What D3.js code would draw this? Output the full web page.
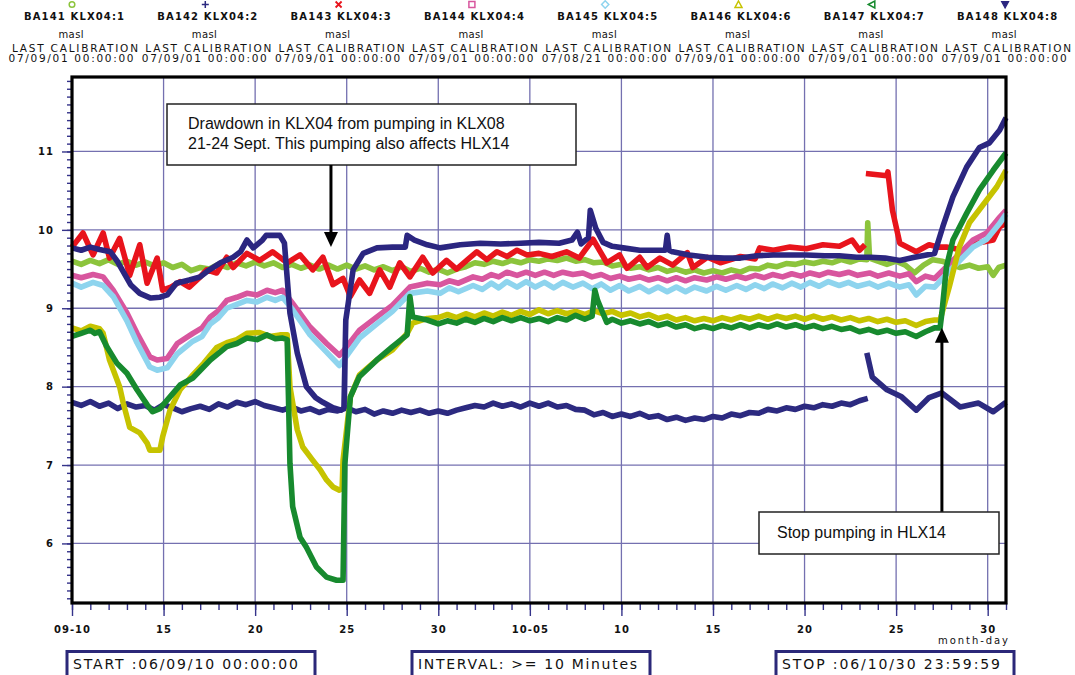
<!DOCTYPE html>
<html><head><meta charset="utf-8">
<script src="https://cdn.jsdelivr.net/npm/d3@7"></script>
<style>
body{margin:0;background:#fff;}
svg{display:block;}
text{font-family:"DejaVu Sans",sans-serif;fill:#111;}
</style></head><body>
<svg id="c" width="1075" height="675"></svg>
<script>
// ---------- data ----------
const seriesNames = ["BA141 KLX04:1","BA142 KLX04:2","BA143 KLX04:3","BA144 KLX04:4","BA145 KLX04:5","BA146 KLX04:6","BA147 KLX04:7","BA148 KLX04:8"];
const seriesUnits = ["masl","masl","masl","masl","masl","masl","masl","masl"];
const calibrationDates = ["07/09/01 00:00:00","07/09/01 00:00:00","07/09/01 00:00:00","07/09/01 00:00:00","07/08/21 00:00:00","07/09/01 00:00:00","07/09/01 00:00:00","07/09/01 00:00:00"];
// x = days after 06-09-10 00:00, y = masl
const ba141 = [[0,9.60],[0.5,9.56],[1,9.61],[1.5,9.57],[2,9.62],[2.5,9.56],[3,9.60],[3.5,9.55],[4,9.59],[4.5,9.54],[5,9.58],[5.5,9.52],[6,9.56],[6.5,9.48],[7,9.52],[7.5,9.50],[8,9.56],[8.5,9.52],[9,9.58],[9.5,9.54],[10,9.59],[10.5,9.54],[11,9.58],[11.5,9.52],[12,9.56],[12.5,9.51],[13,9.55],[13.5,9.50],[14,9.55],[14.5,9.50],[15,9.55],[15.5,9.50],[16,9.54],[16.5,9.49],[17,9.53],[17.5,9.48],[18,9.53],[18.5,9.47],[19,9.51],[19.5,9.46],[20,9.50],[20.5,9.45],[21,9.50],[21.5,9.53],[22,9.58],[22.5,9.56],[23,9.60],[23.5,9.57],[24,9.61],[24.5,9.58],[25,9.62],[25.5,9.60],[26,9.63],[26.5,9.61],[27,9.64],[27.5,9.60],[28,9.62],[28.5,9.58],[29,9.59],[29.5,9.54],[30,9.56],[30.5,9.51],[31,9.53],[31.5,9.49],[32,9.52],[32.5,9.47],[33,9.50],[33.5,9.46],[34,9.49],[34.5,9.45],[35,9.48],[35.5,9.45],[36,9.49],[36.5,9.46],[37,9.51],[37.5,9.50],[38,9.55],[38.5,9.53],[39,9.57],[39.5,9.56],[40,9.59],[40.5,9.57],[41,9.60],[41.5,9.58],[42,9.62],[42.5,9.59],[43,9.63],[43.4,9.62],[43.45,10.09],[43.55,9.64],[44,9.60],[44.5,9.56],[45,9.60],[45.5,9.55],[46,9.45],[46.5,9.55],[47,9.62],[47.5,9.60],[48,9.56],[48.5,9.52],[49,9.55],[49.5,9.51],[50,9.53],[50.3,9.42],[50.6,9.52],[51,9.55]];
const ba142 = [[0,7.80],[0.5,7.76],[1,7.81],[1.5,7.75],[2,7.79],[2.5,7.72],[3,7.78],[3.5,7.74],[4,7.76],[4.5,7.70],[5,7.77],[5.5,7.73],[6,7.68],[6.5,7.72],[7,7.75],[7.5,7.71],[8,7.78],[8.5,7.74],[9,7.80],[9.5,7.77],[10,7.81],[10.5,7.76],[11,7.73],[11.5,7.70],[12,7.74],[12.5,7.69],[13,7.72],[13.5,7.67],[14,7.71],[14.5,7.69],[15,7.73],[15.5,7.68],[16,7.71],[16.5,7.65],[17,7.69],[17.5,7.66],[18,7.70],[18.5,7.67],[19,7.70],[19.5,7.66],[20,7.69],[20.5,7.66],[21,7.70],[21.5,7.73],[22,7.76],[22.5,7.74],[23,7.79],[23.5,7.75],[24,7.78],[24.5,7.74],[25,7.79],[25.5,7.75],[26,7.79],[26.5,7.74],[27,7.76],[27.5,7.71],[28,7.70],[28.5,7.64],[29,7.67],[29.5,7.62],[30,7.65],[30.5,7.62],[31,7.66],[31.5,7.61],[32,7.63],[32.5,7.58],[33,7.61],[33.5,7.57],[34,7.60],[34.5,7.58],[35,7.62],[35.5,7.60],[36,7.65],[36.5,7.63],[37,7.67],[37.5,7.66],[38,7.71],[38.5,7.69],[39,7.73],[39.5,7.71],[40,7.75],[40.5,7.73],[41,7.77],[41.5,7.75],[42,7.79],[42.5,7.77],[43,7.82],[43.45,7.85],null,[43.4,8.43],[43.7,8.12],[44.5,7.96],[45.3,7.87],[46.1,7.70],[46.8,7.86],[47.5,7.92],[48.5,7.74],[49.5,7.79],[50.3,7.68],[51,7.80]];
const ba143 = [[0,9.78],[0.6,9.96],[1.15,9.68],[1.7,9.96],[2.05,9.64],[2.6,9.89],[3.15,9.42],[3.7,9.81],[4.1,9.32],[4.65,9.64],[4.95,9.23],[5.4,9.27],[5.9,9.34],[6.4,9.27],[7.0,9.40],[7.35,9.49],[7.9,9.45],[8.45,9.65],[8.8,9.52],[9.55,9.70],[10.25,9.61],[10.95,9.72],[11.75,9.58],[12.45,9.68],[13.15,9.49],[13.7,9.65],[14.25,9.30],[14.8,9.38],[15.2,9.15],[15.7,9.36],[16.25,9.19],[16.8,9.49],[17.35,9.27],[17.9,9.58],[18.45,9.40],[19.15,9.65],[19.7,9.45],[20.45,9.61],[21.0,9.50],[21.6,9.62],[22.1,9.72],[22.65,9.62],[23.2,9.72],[23.75,9.66],[24.3,9.74],[24.85,9.68],[25.5,9.70],[26.2,9.66],[27.0,9.72],[27.7,9.64],[28.45,9.88],[29.2,9.58],[29.9,9.68],[30.3,9.51],[31.0,9.65],[31.4,9.52],[32.1,9.64],[32.8,9.55],[33.6,9.71],[33.9,9.52],[34.7,9.65],[35.4,9.58],[36.5,9.66],[37.3,9.63],[37.55,9.77],[38.3,9.74],[39.2,9.78],[40.1,9.76],[41.0,9.81],[41.9,9.79],[42.6,9.87],[43.0,9.74],[43.3,9.81],null,[43.35,10.72],[44.5,10.69],[44.55,10.74],[44.8,10.25],[45.2,9.83],[46.1,9.72],[46.8,9.81],[47.3,9.78],[47.75,9.78],[48.65,9.74],[49.4,9.83],[50.3,9.87],[50.65,10.04],[51,10.08]];
const ba144 = [[0,9.42],[0.5,9.39],[1.15,9.43],[1.7,9.40],[2.25,9.23],[3.0,8.94],[3.55,8.68],[4.25,8.38],[4.65,8.34],[5.2,8.36],[5.75,8.55],[6.6,8.68],[7.1,8.75],[7.55,8.89],[8.0,8.97],[8.45,9.10],[9.0,9.14],[9.55,9.19],[10.1,9.17],[10.65,9.23],[11.1,9.20],[11.5,9.23],[12.05,9.06],[13.0,8.76],[13.9,8.55],[14.6,8.40],[14.8,8.45],[15.7,8.72],[16.65,8.89],[17.5,9.04],[18.45,9.27],[19.4,9.32],[20.1,9.30],[20.6,9.35],[21.1,9.32],[21.9,9.40],[22.4,9.37],[22.9,9.43],[23.3,9.40],[23.75,9.46],[24.3,9.42],[24.8,9.46],[25.3,9.42],[25.8,9.46],[26.3,9.42],[26.8,9.46],[27.35,9.43],[27.9,9.45],[28.4,9.40],[28.9,9.43],[29.4,9.38],[29.9,9.41],[30.4,9.37],[31.0,9.40],[31.5,9.36],[32.0,9.39],[32.5,9.35],[33.0,9.39],[33.5,9.35],[34.0,9.39],[34.65,9.36],[35.2,9.40],[35.7,9.37],[36.3,9.41],[36.8,9.38],[37.3,9.42],[37.8,9.39],[38.25,9.43],[38.8,9.40],[39.3,9.44],[39.8,9.41],[40.3,9.45],[40.8,9.42],[41.3,9.46],[41.9,9.43],[42.4,9.46],[42.9,9.42],[43.55,9.45],[44.0,9.41],[44.6,9.45],[45.2,9.41],[45.7,9.44],[46.1,9.34],[46.6,9.41],[47.1,9.38],[48.1,9.61],[49.2,9.87],[49.95,9.96],[50.65,10.16],[51,10.25]];
const ba145 = [[0,9.32],[0.5,9.27],[1.15,9.33],[1.7,9.29],[2.25,9.15],[3.0,8.84],[3.55,8.56],[4.25,8.25],[4.65,8.21],[5.2,8.24],[5.75,8.42],[6.6,8.58],[7.1,8.64],[7.55,8.80],[8.0,8.88],[8.45,9.00],[9.0,9.05],[9.55,9.10],[10.1,9.08],[10.65,9.14],[11.1,9.10],[11.5,9.14],[12.05,8.98],[13.0,8.66],[13.9,8.44],[14.6,8.27],[14.8,8.33],[15.7,8.62],[16.65,8.80],[17.5,8.96],[18.45,9.19],[19.4,9.22],[20.1,9.19],[20.6,9.26],[21.1,9.21],[21.9,9.29],[22.4,9.24],[22.9,9.32],[23.3,9.26],[23.75,9.34],[24.3,9.27],[24.8,9.34],[25.3,9.27],[25.8,9.33],[26.3,9.26],[26.8,9.33],[27.35,9.27],[27.9,9.32],[28.4,9.25],[28.9,9.31],[29.4,9.23],[29.9,9.29],[30.4,9.22],[31.0,9.28],[31.5,9.21],[32.0,9.27],[32.5,9.21],[33.0,9.27],[33.5,9.21],[34.0,9.27],[34.65,9.22],[35.2,9.28],[35.7,9.23],[36.3,9.29],[36.8,9.24],[37.3,9.30],[37.8,9.25],[38.25,9.31],[38.8,9.26],[39.3,9.32],[39.8,9.27],[40.3,9.33],[40.8,9.28],[41.3,9.34],[41.9,9.29],[42.4,9.33],[42.9,9.28],[43.55,9.32],[44.0,9.27],[44.6,9.32],[45.2,9.27],[45.7,9.30],[46.1,9.17],[46.6,9.28],[47.1,9.27],[48.1,9.52],[49.2,9.78],[49.95,9.88],[50.65,10.08],[51,10.20]];
const ba146 = [[0,8.75],[0.5,8.71],[1.0,8.77],[1.5,8.74],[1.7,8.68],[2.05,8.34],[2.6,8.0],[2.8,7.79],[3.15,7.48],[3.7,7.41],[4.1,7.28],[4.25,7.19],[4.8,7.19],[4.95,7.36],[5.35,7.70],[5.9,7.96],[6.6,8.15],[7.2,8.30],[7.9,8.50],[8.45,8.56],[9.0,8.60],[9.55,8.68],[10.25,8.69],[10.8,8.64],[11.35,8.66],[11.75,8.66],[11.9,8.0],[12.3,7.45],[12.6,7.23],[13.15,7.06],[13.55,6.94],[13.9,6.81],[14.25,6.72],[14.6,6.68],[14.75,6.70],[14.8,7.06],[15.2,7.87],[15.7,8.15],[16.65,8.34],[17.5,8.47],[18.3,8.68],[18.6,8.81],[19.4,8.87],[20,8.88],[20.5,8.92],[21,8.88],[21.5,8.93],[22,8.89],[22.5,8.94],[23,8.90],[23.5,8.95],[24,8.91],[24.5,8.96],[25,8.92],[25.5,8.98],[26,8.93],[26.5,8.97],[27,8.93],[27.5,8.96],[28,8.92],[28.5,8.97],[29,8.93],[29.5,8.96],[30,8.91],[30.5,8.94],[31,8.89],[31.5,8.92],[32,8.87],[32.5,8.90],[33,8.85],[33.5,8.88],[34,8.84],[34.5,8.87],[35,8.84],[35.5,8.88],[36,8.85],[36.5,8.89],[37,8.86],[37.5,8.90],[38,8.86],[38.5,8.90],[39,8.87],[39.5,8.90],[40,8.86],[40.5,8.90],[41,8.86],[41.5,8.89],[42,8.85],[42.5,8.88],[43,8.84],[43.5,8.87],[44,8.83],[44.5,8.86],[45,8.82],[45.5,8.84],[46.1,8.78],[46.6,8.83],[47.1,8.85],[47.4,8.85],[47.9,9.27],[48.45,9.78],[49.0,10.09],[49.95,10.38],[50.5,10.55],[51,10.76]];
const ba147 = [[0,8.64],[0.5,8.68],[1.0,8.72],[1.25,8.68],[1.5,8.70],[1.9,8.51],[2.45,8.30],[3.0,8.17],[3.55,7.96],[4.1,7.77],[4.4,7.68],[4.8,7.72],[5.35,7.87],[5.9,8.02],[6.6,8.11],[7.55,8.34],[8.45,8.51],[9.0,8.55],[9.55,8.62],[10.1,8.60],[10.65,8.66],[11.1,8.61],[11.5,8.62],[11.75,8.60],[11.9,7.02],[12.05,6.47],[12.45,6.08],[12.8,5.95],[13.35,5.70],[13.9,5.57],[14.45,5.53],[14.8,5.53],[14.9,7.02],[15.2,7.87],[15.7,8.13],[16.65,8.34],[17.5,8.51],[18.3,8.66],[18.45,9.15],[18.6,8.89],[19.4,8.85],[20,8.80],[20.5,8.84],[21,8.81],[21.5,8.86],[22,8.82],[22.5,8.87],[23,8.83],[23.5,8.88],[24,8.84],[24.5,8.88],[25,8.84],[25.5,8.87],[26,8.83],[26.5,8.88],[27,8.85],[27.5,8.91],[28,8.86],[28.4,8.90],[28.55,9.23],[28.7,9.10],[29.0,8.93],[29.2,8.82],[29.5,8.86],[30,8.81],[30.5,8.84],[31,8.80],[31.5,8.83],[32,8.78],[32.5,8.81],[33,8.76],[33.5,8.79],[34,8.74],[34.5,8.77],[35,8.74],[35.5,8.78],[36,8.75],[36.5,8.79],[37,8.75],[37.5,8.79],[38,8.76],[38.5,8.80],[39,8.76],[39.5,8.79],[40,8.75],[40.5,8.78],[41,8.74],[41.5,8.77],[42,8.73],[42.5,8.75],[43,8.70],[43.5,8.73],[44,8.69],[44.5,8.72],[45,8.68],[45.5,8.70],[46.1,8.64],[46.6,8.70],[47.1,8.75],[47.4,8.75],[47.5,8.94],[47.75,9.53],[48.1,9.87],[48.85,10.21],[49.55,10.51],[50.3,10.76],[51,10.98]];
const ba148 = [[0,9.77],[0.5,9.74],[1,9.78],[1.5,9.75],[2.1,9.72],[2.5,9.59],[3.2,9.30],[3.7,9.19],[4.3,9.13],[4.8,9.14],[5.2,9.17],[5.7,9.32],[6.4,9.36],[7.0,9.40],[7.5,9.49],[8.1,9.58],[8.8,9.65],[9.2,9.72],[9.55,9.87],[9.9,9.77],[10.4,9.87],[10.6,9.93],[11.35,9.93],[11.6,9.83],[11.9,8.94],[12.3,8.43],[12.8,8.0],[13.3,7.86],[13.7,7.80],[14.25,7.73],[14.7,7.70],[14.85,7.73],[14.95,8.85],[15.35,9.49],[15.9,9.70],[16.65,9.77],[17.5,9.78],[18.2,9.78],[18.3,9.93],[18.7,9.87],[19.4,9.81],[20.1,9.77],[21.2,9.81],[22.3,9.83],[23.4,9.82],[24.5,9.83],[25.5,9.84],[26.6,9.83],[27.3,9.87],[27.6,9.97],[27.8,9.82],[28.2,9.90],[28.3,10.25],[28.6,10.02],[29.0,9.84],[29.5,9.79],[30.1,9.77],[31.0,9.74],[32.1,9.74],[32.4,9.74],[32.5,9.93],[32.6,9.74],[32.8,9.72],[33.7,9.68],[34.7,9.65],[35.6,9.64],[36.5,9.64],[37.4,9.67],[38.3,9.68],[39.2,9.68],[40.1,9.68],[41.1,9.67],[41.9,9.67],[42.85,9.65],[43.6,9.65],[44.4,9.64],[45.2,9.61],[46.0,9.65],[47.1,9.70],[47.55,10.04],[48.1,10.42],[48.85,10.80],[49.55,11.05],[50.1,11.11],[50.65,11.27],[51,11.43]];
const allSeries = [ba141, ba142, ba143, ba144, ba145, ba146, ba147, ba148];

const xTickDays = [0,5,10,15,20,25,30,35,40,45,50];
const xTickLabels = ["09-10","15","20","25","30","10-05","10","15","20","25","30"];
const yTickValues = [6,7,8,9,10,11];
const footerTexts = ["START :06/09/10 00:00:00","INTERVAL: >= 10 Minutes","STOP :06/10/30 23:59:59"];
const noteTexts = [["Drawdown in KLX04 from pumping in KLX08","21-24 Sept. This pumping also affects HLX14"],["Stop pumping in HLX14"]];
const noteTargets = [[14.14, 9.78],[47.5, 8.75]]; // arrow tips [day, masl]

// ---------- styles ----------
const colors = ["#8cc43c","#2c2a80","#e8141c","#d8569e","#8ed4ee","#c6c300","#178a2e","#2b2680"];
const symbols = ["circle","plus","cross","square","diamond","triUp","triLeft","triDown"];
const gridCol = "#7470b0", tickCol = "#35338a", boxCol = "#2b2879";

const svg = d3.select("#c");
const x = d3.scaleLinear().domain([0,51]).range([72,1006]);
const y = d3.scaleLinear().domain([5.24,11.95]).range([603,77]);

// gridlines
svg.append("g").selectAll("line").data(yTickValues).join("line")
  .attr("x1",x(0)).attr("x2",x(51)).attr("y1",d=>y(d)).attr("y2",d=>y(d))
  .attr("stroke",gridCol).attr("stroke-width",1.3);
svg.append("g").selectAll("line").data(xTickDays.slice(1)).join("line")
  .attr("y1",y(11.95)).attr("y2",y(5.24)).attr("x1",d=>x(d)).attr("x2",d=>x(d))
  .attr("stroke",gridCol).attr("stroke-width",1.3);

// axes ticks
function styleAxis(g){ g.select(".domain").remove(); g.selectAll(".tick line").attr("stroke",tickCol).attr("stroke-width",1.4); }
svg.append("g").attr("transform","translate(72,0)")
  .call(d3.axisLeft(y).tickValues(d3.range(53,120).map(v=>v/10)).tickSize(5).tickFormat(""))
  .call(styleAxis);
const ya = svg.append("g").attr("transform","translate(72,0)")
  .call(d3.axisLeft(y).tickValues(yTickValues).tickSize(10).tickPadding(8).tickFormat(d=>d))
  .call(styleAxis);
ya.selectAll("text").attr("font-size",10).attr("font-weight","bold").attr("letter-spacing","1px").attr("fill","#111");
svg.append("g").attr("transform","translate(0,603)")
  .call(d3.axisBottom(x).tickValues(d3.range(0,52)).tickSize(7).tickFormat(""))
  .call(styleAxis);
const xa = svg.append("g").attr("transform","translate(0,603)")
  .call(d3.axisBottom(x).tickValues(xTickDays).tickSize(13).tickPadding(10).tickFormat((d,i)=>xTickLabels[i]))
  .call(styleAxis);
xa.selectAll("text").attr("font-size",10).attr("font-weight","bold").attr("letter-spacing","1px").attr("fill","#111");
svg.append("text").attr("x",x(51)+2).attr("y",644).attr("text-anchor","end")
  .attr("font-size",10).attr("textLength",70).attr("lengthAdjust","spacing").text("month-day");

// series
const line = d3.line().defined(d=>d!==null).x(d=>x(d[0])).y(d=>y(d[1]));
svg.append("g").selectAll("path").data(allSeries).join("path")
  .attr("d",line).attr("fill","none").attr("stroke",(d,i)=>colors[i])
  .attr("stroke-width",5.6).attr("stroke-linejoin","round").attr("stroke-linecap","butt");

// frame
svg.append("rect").attr("x",x(0)).attr("y",y(11.95)).attr("width",x(51)-x(0)).attr("height",y(5.24)-y(11.95))
  .attr("fill","none").attr("stroke","#000").attr("stroke-width",3.2);

// header legend
const colX = i => 72 + i*133.3;
const hdr = svg.append("g");
seriesNames.forEach((nm,i)=>{
  const cx = colX(i), c = colors[i], g = hdr.append("g");
  const s = symbols[i];
  if(s==="circle") g.append("circle").attr("cx",cx).attr("cy",4.5).attr("r",2.8).attr("fill","none").attr("stroke",c).attr("stroke-width",1.5);
  else if(s==="plus") g.append("path").attr("d",`M${cx-3.5},4.5h7M${cx},1v7`).attr("stroke",c).attr("stroke-width",1.5);
  else if(s==="cross") g.append("path").attr("d",`M${cx-3},1.5l6,6M${cx+3},1.5l-6,6`).attr("stroke",c).attr("stroke-width",1.8);
  else if(s==="square") g.append("rect").attr("x",cx-3).attr("y",1.5).attr("width",6).attr("height",6).attr("fill","none").attr("stroke",c).attr("stroke-width",1.5);
  else if(s==="diamond") g.append("path").attr("d",`M${cx},0.8l3.6,3.7l-3.6,3.7l-3.6,-3.7z`).attr("fill","none").attr("stroke",c).attr("stroke-width",1.5);
  else if(s==="triUp") g.append("path").attr("d",`M${cx},1l3.5,6.5h-7z`).attr("fill","none").attr("stroke",c).attr("stroke-width",1.5);
  else if(s==="triLeft") g.append("path").attr("d",`M${cx-3.5},4.5l6.5,-3.5v7z`).attr("fill","none").attr("stroke",c).attr("stroke-width",1.5);
  else g.append("path").attr("d",`M${cx-3.5},1.5h7l-3.5,6.5z`).attr("fill",c).attr("stroke",c).attr("stroke-width",1.2);
  g.append("text").attr("x",cx+2).attr("y",20).attr("text-anchor","middle").attr("font-size",10).attr("font-weight","bold")
    .attr("textLength",100).attr("lengthAdjust","spacing").text(nm);
  g.append("text").attr("x",cx-1).attr("y",37.5).attr("text-anchor","middle").attr("font-size",10)
    .attr("textLength",25).attr("lengthAdjust","spacing").text(seriesUnits[i]);
  g.append("text").attr("x",cx+3).attr("y",52).attr("text-anchor","middle").attr("font-size",10.5)
    .attr("textLength",126).attr("lengthAdjust","spacing").text("LAST CALIBRATION");
  g.append("text").attr("x",cx-1).attr("y",62).attr("text-anchor","middle").attr("font-size",10.5)
    .attr("textLength",125).attr("lengthAdjust","spacing").text(calibrationDates[i]);
});

// footer boxes
const footBoxes = [[67,315,225],[412,650,219],[776,1014,218]];
footerTexts.forEach((t,i)=>{
  const [l,r,tl] = footBoxes[i];
  svg.append("rect").attr("x",l).attr("y",651.5).attr("width",r-l).attr("height",30)
    .attr("fill","#fff").attr("stroke",boxCol).attr("stroke-width",3);
  svg.append("text").attr("x",l+6).attr("y",668.5).attr("font-size",14)
    .attr("textLength",tl).attr("lengthAdjust","spacing").text(t);
});

// annotations
const ann = svg.append("g").attr("font-family","'Liberation Sans',Arial,sans-serif");
function arrow(tx,ty,fromY){
  const dir = fromY>ty?1:-1;
  ann.append("line").attr("x1",tx).attr("x2",tx).attr("y1",fromY).attr("y2",ty+dir*12).attr("stroke","#000").attr("stroke-width",3);
  ann.append("path").attr("d",`M${tx},${ty}L${tx-7},${ty+dir*15}L${tx+7},${ty+dir*15}Z`).attr("fill","#000");
}
// note 1
{
  const tx = x(noteTargets[0][0]), ty = y(noteTargets[0][1]);
  ann.append("rect").attr("x",167).attr("y",104).attr("width",409).attr("height",61).attr("fill","#fff").attr("stroke","#222").attr("stroke-width",1.5);
  noteTexts[0].forEach((t,k)=>ann.append("text").attr("x",188).attr("y",129+k*20).attr("font-size",16)
    .style("font-family","'Liberation Sans',Arial,sans-serif").text(t));
  arrow(tx,ty,165);
}
// note 2
{
  const tx = x(noteTargets[1][0]), ty = y(noteTargets[1][1]);
  arrow(tx,ty,512);
  ann.append("rect").attr("x",759).attr("y",512).attr("width",240).attr("height",42).attr("fill","#fff").attr("stroke","#222").attr("stroke-width",1.5);
  ann.append("text").attr("x",777).attr("y",538).attr("font-size",16)
    .style("font-family","'Liberation Sans',Arial,sans-serif").text(noteTexts[1][0]);
}
</script>
</body></html>
